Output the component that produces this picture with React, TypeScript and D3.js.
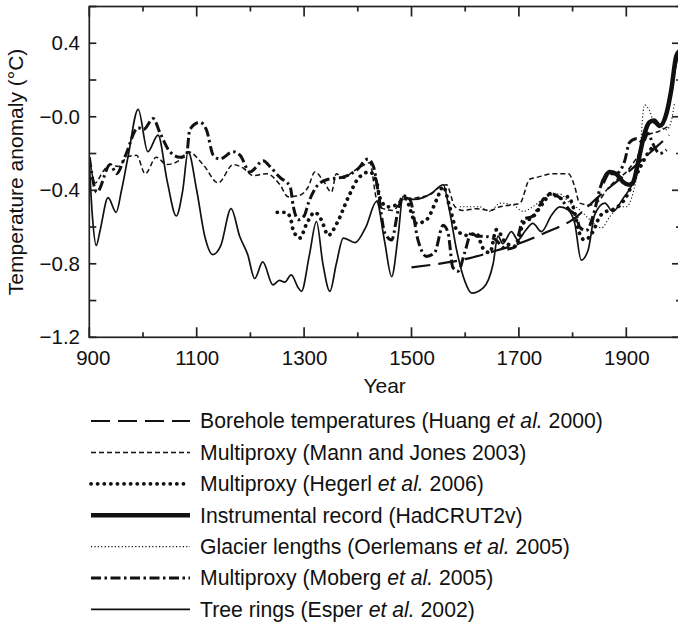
import * as d3 from 'd3';

// series: [year, temperature anomaly °C]
const borehole: [number, number][] = [
  [1500, -0.82], [1550, -0.8], [1600, -0.775], [1650, -0.735], [1700, -0.69], [1750, -0.63],
  [1800, -0.56], [1850, -0.43], [1900, -0.31], [1950, -0.18], [1980, -0.1],
];
const mannJones: [number, number][] = [
  [900, -0.22], [911, -0.36], [925, -0.3], [939, -0.26], [954, -0.27], [970, -0.22], [988, -0.21],
  [1004, -0.31], [1025, -0.22], [1044, -0.26], [1069, -0.235], [1084, -0.19], [1112, -0.26],
  [1140, -0.36], [1168, -0.26], [1187, -0.28], [1205, -0.32], [1230, -0.31], [1255, -0.37],
  [1270, -0.435], [1289, -0.43], [1308, -0.38], [1320, -0.3], [1336, -0.35], [1351, -0.41],
  [1360, -0.31], [1373, -0.335], [1390, -0.3], [1407, -0.27], [1422, -0.25], [1435, -0.45],
  [1447, -0.5], [1466, -0.51], [1484, -0.45], [1509, -0.44], [1534, -0.425], [1553, -0.38],
  [1565, -0.37], [1581, -0.49], [1596, -0.51], [1621, -0.5], [1646, -0.51], [1665, -0.49],
  [1685, -0.48], [1702, -0.47], [1720, -0.34], [1733, -0.33], [1764, -0.31], [1792, -0.31],
  [1804, -0.38], [1813, -0.47], [1832, -0.48], [1848, -0.46], [1863, -0.4], [1879, -0.35],
  [1900, -0.3], [1920, -0.22], [1940, -0.1], [1960, -0.08], [1980, -0.05],
];
const hegerl: [number, number][] = [
  [1250, -0.52], [1265, -0.52], [1274, -0.545], [1280, -0.62], [1292, -0.66], [1305, -0.58],
  [1320, -0.52], [1332, -0.56], [1345, -0.645], [1361, -0.58], [1382, -0.44], [1401, -0.335],
  [1422, -0.3], [1435, -0.355], [1441, -0.44], [1455, -0.49], [1472, -0.48], [1488, -0.445],
  [1509, -0.58], [1528, -0.56], [1547, -0.45], [1559, -0.38], [1571, -0.49], [1584, -0.615],
  [1602, -0.645], [1621, -0.635], [1633, -0.715], [1646, -0.74], [1658, -0.615], [1677, -0.69],
  [1695, -0.705], [1708, -0.58], [1726, -0.545], [1745, -0.47], [1761, -0.415], [1776, -0.445],
  [1792, -0.435], [1801, -0.49], [1813, -0.635], [1822, -0.67], [1838, -0.625], [1850, -0.545],
  [1863, -0.515], [1875, -0.505], [1888, -0.48], [1900, -0.435], [1909, -0.38], [1925, -0.28],
  [1940, -0.2], [1950, -0.16],
];
const instrumental: [number, number][] = [
  [1856, -0.36], [1869, -0.3], [1881, -0.31], [1894, -0.355], [1905, -0.37], [1912, -0.36],
  [1924, -0.22], [1934, -0.09], [1943, -0.03], [1952, -0.02], [1962, -0.05], [1975, 0.02],
  [1984, 0.15], [1993, 0.33], [2000, 0.36],
];
const glacier: [number, number][] = [
  [1590, -0.49], [1627, -0.49], [1646, -0.515], [1665, -0.47], [1689, -0.48], [1708, -0.515],
  [1726, -0.49], [1751, -0.435], [1776, -0.42], [1795, -0.47], [1813, -0.505], [1832, -0.56],
  [1854, -0.605], [1869, -0.545], [1888, -0.49], [1900, -0.49], [1912, -0.42], [1924, -0.235],
  [1934, 0.065], [1943, 0.035], [1952, -0.035], [1964, -0.055], [1975, -0.07], [1984, -0.02],
  [1990, 0.08],
];
const moberg: [number, number][] = [
  [900, -0.22], [914, -0.41], [939, -0.26], [951, -0.31], [966, -0.22], [991, -0.06], [1001, -0.07],
  [1019, -0.01], [1032, -0.09], [1050, -0.19], [1069, -0.22], [1081, -0.21], [1087, -0.07],
  [1106, -0.03], [1118, -0.07], [1131, -0.21], [1143, -0.23], [1168, -0.19], [1181, -0.21],
  [1199, -0.3], [1224, -0.24], [1236, -0.27], [1255, -0.33], [1274, -0.38], [1280, -0.49],
  [1289, -0.56], [1300, -0.54], [1308, -0.47], [1326, -0.37], [1345, -0.34], [1370, -0.33],
  [1398, -0.29], [1419, -0.23], [1429, -0.27], [1438, -0.41], [1450, -0.63], [1463, -0.67],
  [1475, -0.51], [1484, -0.43], [1497, -0.45], [1512, -0.67], [1528, -0.76], [1543, -0.74],
  [1559, -0.59], [1568, -0.63], [1577, -0.82], [1587, -0.84], [1599, -0.74], [1612, -0.63],
  [1621, -0.65], [1633, -0.65], [1652, -0.66], [1677, -0.72], [1692, -0.71], [1708, -0.56],
  [1726, -0.54], [1748, -0.44], [1761, -0.42], [1776, -0.44], [1795, -0.51], [1807, -0.54],
  [1813, -0.6], [1825, -0.62], [1841, -0.51], [1850, -0.4], [1866, -0.31], [1881, -0.31],
  [1897, -0.24], [1906, -0.14], [1919, -0.12], [1931, -0.14], [1940, -0.09], [1950, -0.15],
  [1962, -0.2], [1975, -0.18],
];
const treeRings: [number, number][] = [
  [900, -0.25], [906, -0.55], [913, -0.7], [920, -0.62], [935, -0.44], [950, -0.52], [960, -0.4],
  [972, -0.22], [991, 0.04], [1009, -0.19], [1028, -0.1], [1045, -0.35], [1062, -0.54],
  [1074, -0.4], [1084, -0.19], [1100, -0.4], [1115, -0.65], [1130, -0.75], [1145, -0.7],
  [1164, -0.5], [1180, -0.65], [1195, -0.75], [1208, -0.88], [1223, -0.79], [1242, -0.915],
  [1254, -0.89], [1264, -0.9], [1276, -0.86], [1289, -0.93], [1295, -0.95], [1310, -0.75],
  [1323, -0.57], [1335, -0.8], [1348, -0.95], [1360, -0.8], [1373, -0.66], [1395, -0.685],
  [1415, -0.6], [1435, -0.46], [1450, -0.68], [1463, -0.87], [1475, -0.65], [1484, -0.435],
  [1503, -0.45], [1522, -0.44], [1540, -0.41], [1559, -0.37], [1570, -0.5], [1584, -0.725],
  [1600, -0.9], [1612, -0.96], [1634, -0.93], [1652, -0.8], [1661, -0.65], [1670, -0.69],
  [1686, -0.625], [1698, -0.67], [1712, -0.62], [1726, -0.58], [1742, -0.625], [1761, -0.534],
  [1776, -0.49], [1792, -0.507], [1804, -0.58], [1816, -0.78], [1829, -0.725], [1841, -0.534],
  [1860, -0.47], [1875, -0.516], [1894, -0.444], [1912, -0.36], [1931, -0.144], [1947, -0.027],
  [1962, -0.054], [1975, 0.037], [1987, 0.2], [1996, 0.33],
];

const xTickYears = [900, 1100, 1300, 1500, 1700, 1900];
const yTickValues = [0.4, 0, -0.4, -0.8, -1.2];
const yTickLabels = ['0.4', '\u22120.0', '\u22120.4', '\u22120.8', '\u22121.2'];

type Style = { width: number; dash?: string; cap?: 'round' | 'butt' };
const seriesList: { name: string; data: [number, number][]; style: Style; legend: [string, string?, string?] }[] = [
  { name: 'borehole', data: borehole, style: { width: 2.2, dash: '19,8' }, legend: ['Borehole temperatures (Huang ', 'et al.', ' 2000)'] },
  { name: 'mann', data: mannJones, style: { width: 1.5, dash: '5,3' }, legend: ['Multiproxy (Mann and Jones 2003)'] },
  { name: 'hegerl', data: hegerl, style: { width: 3.8, dash: '0.1,6.5', cap: 'round' }, legend: ['Multiproxy (Hegerl ', 'et al.', ' 2006)'] },
  { name: 'instr', data: instrumental, style: { width: 4.5 }, legend: ['Instrumental record (HadCRUT2v)'] },
  { name: 'glacier', data: glacier, style: { width: 1.1, dash: '1.2,2.2' }, legend: ['Glacier lengths (Oerlemans ', 'et al.', ' 2005)'] },
  { name: 'moberg', data: moberg, style: { width: 3, dash: '10,3.5,2.5,3.5' }, legend: ['Multiproxy (Moberg ', 'et al.', ' 2005)'] },
  { name: 'tree', data: treeRings, style: { width: 1.7 }, legend: ['Tree rings (Esper ', 'et al.', ' 2002)'] },
];

const FONT = '"Liberation Sans", Arial, Helvetica, sans-serif';
const INK = '#111';

export default function App() {
  const left = 89.3, right = 680, top = 6.5, bottom = 337.3;
  const x = d3.scaleLinear().domain([900, 2000]).range([left, right]);
  const y = d3.scaleLinear().domain([-1.2, 0.6]).range([bottom, top]);
  const line = d3.line<[number, number]>().x(d => x(d[0])).y(d => y(d[1])).curve(d3.curveMonotoneX);

  const xMinor = d3.range(900, 2001, 100);
  const yAll = d3.range(-1.2, 0.61, 0.2).map(v => +v.toFixed(1));

  const legendTop = 421;
  const legendStep = 31.4;

  return (
    <svg width={678} height={630} style={{ position: 'absolute', left: 0, top: 0, background: '#fff' }}
      fontFamily={FONT}>
      <defs>
        <clipPath id="plot"><rect x={left} y={top} width={right - left} height={bottom - top} /></clipPath>
      </defs>
      <rect x={0} y={0} width={678} height={630} fill="#fff" />

      <g clipPath="url(#plot)" fill="none" stroke={INK} strokeLinejoin="round">
        {seriesList.map(s => (
          <path key={s.name} d={line(s.data) ?? ''} strokeWidth={s.style.width}
            strokeDasharray={s.style.dash} strokeLinecap={s.style.cap ?? 'butt'} />
        ))}
      </g>

      {/* frame + ticks */}
      <g stroke="#222" strokeWidth={1.7} fill="none">
        <rect x={left} y={top} width={right - left} height={bottom - top} />
        {xMinor.map(t => {
          const major = (t - 900) % 200 === 0;
          const len = major ? 10 : 5;
          return (
            <g key={t}>
              <line x1={x(t)} x2={x(t)} y1={bottom} y2={bottom - len} />
              <line x1={x(t)} x2={x(t)} y1={top} y2={top + len} />
            </g>
          );
        })}
        {yAll.map(v => {
          const major = Math.abs(Math.round(v * 10) % 4) === 0;
          return (
            <g key={v}>
              <line x1={left} x2={left + 7} y1={y(v)} y2={y(v)} />
              <line x1={right} x2={right - (major ? 8 : 4)} y1={y(v)} y2={y(v)} />
            </g>
          );
        })}
      </g>

      {/* tick labels */}
      <g fontSize={20.5} fill={INK}>
        {xTickYears.map((t, i) => (
          <text key={t} x={x(t)} dx={i === 0 ? 4 : 0.5} y={358} dy="0.35em" textAnchor="middle">{t}</text>
        ))}
        {yTickValues.map((v, i) => (
          <text key={v} x={80} y={y(v)} dy="0.35em" textAnchor="end">{yTickLabels[i]}</text>
        ))}
      </g>

      <text x={(left + right) / 2} y={386} dy="0.35em" textAnchor="middle" fontSize={21} fill={INK}>Year</text>
      <text transform={`translate(16,${(top + bottom) / 2}) rotate(-90)`} dy="0.35em" textAnchor="middle"
        fontSize={21} fill={INK}>Temperature anomaly (°C)</text>

      {/* legend */}
      <g fontSize={21.2} fill={INK}>
        {seriesList.map((s, i) => {
          const ly = legendTop + i * legendStep;
          return (
            <g key={s.name}>
              <line x1={91} x2={190} y1={ly} y2={ly} stroke={INK} strokeWidth={s.style.width}
                strokeDasharray={s.style.dash} strokeLinecap={s.style.cap ?? 'butt'} />
              <text x={200} y={ly} dy="0.35em">
                {s.legend[0]}
                {s.legend[1] && <tspan fontStyle="italic">{s.legend[1]}</tspan>}
                {s.legend[2]}
              </text>
            </g>
          );
        })}
      </g>
    </svg>
  );
}
